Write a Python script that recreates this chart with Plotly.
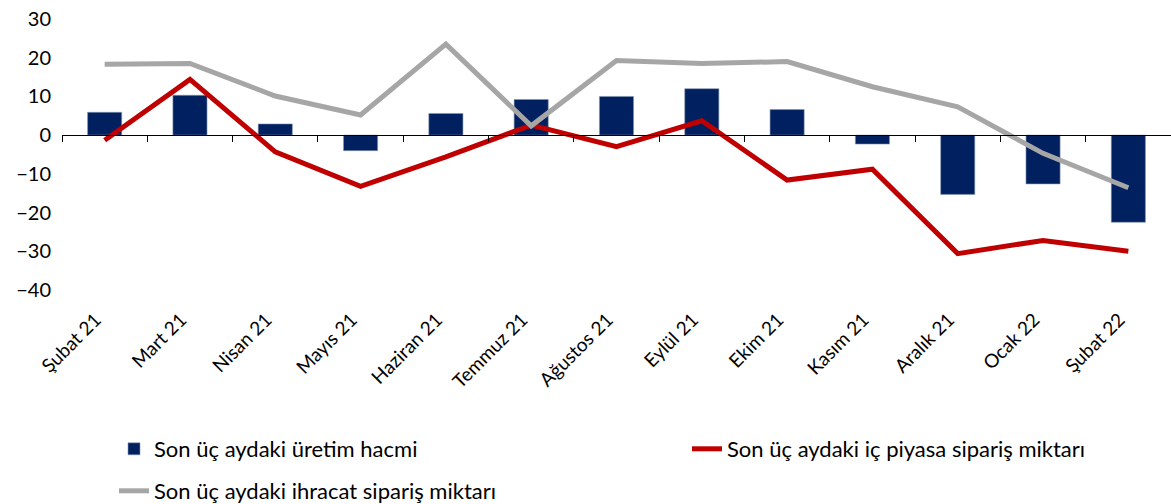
import plotly.graph_objects as go

categories = ["Şubat 21", "Mart 21", "Nisan 21", "Mayıs 21", "Haziran 21", "Temmuz 21",
              "Ağustos 21", "Eylül 21", "Ekim 21", "Kasım 21", "Aralık 21", "Ocak 22", "Şubat 22"]
uretim = [5.9, 10.3, 2.9, -4.0, 5.6, 9.2, 10.0, 12.0, 6.6, -2.3, -15.3, -12.6, -22.5]
ic_piyasa = [-1.3, 14.4, -4.3, -13.2, -5.6, 2.6, -3.0, 3.7, -11.6, -8.8, -30.6, -27.2, -30.0]
ihracat = [18.3, 18.5, 10.1, 5.2, 23.5, 2.4, 19.3, 18.5, 19.0, 12.5, 7.3, -4.7, -13.6]
y_ticks = [-40, -30, -20, -10, 0, 10, 20, 30]

FONT = "Lato"

fig = go.Figure()
fig.add_trace(go.Bar(x=categories, y=uretim, name="Son üç aydaki üretim hacmi",
                     marker=dict(color="#002060", line=dict(color="#8497B0", width=0.6)),
                     width=0.4, legend="legend"))
fig.add_trace(go.Scatter(x=categories, y=ic_piyasa, name="Son üç aydaki iç piyasa sipariş miktarı",
                         mode="lines", line=dict(color="#C00000", width=5), legend="legend2"))
fig.add_trace(go.Scatter(x=categories, y=ihracat, name="Son üç aydaki ihracat sipariş miktarı",
                         mode="lines", line=dict(color="#A6A6A6", width=5), legend="legend3"))
# helper trace for the zero-line category axis
fig.add_trace(go.Scatter(x=categories, y=[None] * len(categories), xaxis="x2",
                         showlegend=False, hoverinfo="skip", mode="lines"))

xr = [-0.5, len(categories) - 0.5]
leg_common = dict(orientation="h", xref="container", yref="container",
                  xanchor="left", yanchor="middle", font=dict(size=22),
                  bgcolor="rgba(0,0,0,0)")
fig.update_layout(
    width=1171, height=504,
    margin=dict(l=62, r=0, t=19, b=214, autoexpand=False),
    plot_bgcolor="white", paper_bgcolor="white",
    font=dict(family=FONT, size=20, color="black"),
    xaxis=dict(type="category", categoryorder="array", categoryarray=categories, range=xr,
               showline=False, showgrid=False, zeroline=False, ticks="",
               tickangle=-45, ticklabelstandoff=14, ticklabelshift=-9,
               tickfont=dict(size=19)),
    xaxis2=dict(type="category", categoryorder="array", categoryarray=categories, range=xr,
                overlaying="x", anchor="free", position=4 / 7,
                showline=True, linecolor="black", linewidth=1,
                ticks="outside", tickson="boundaries", ticklen=6, tickcolor="black",
                showticklabels=False, showgrid=False, zeroline=False),
    yaxis=dict(range=[-40, 30], tickvals=y_ticks, showgrid=False, zeroline=False,
               showline=False, ticks="", ticklabelstandoff=10, tickfont=dict(size=20)),
    bargap=0.6,
    legend=dict(leg_common, x=114 / 1171, y=1 - 449 / 504),
    legend2=dict(leg_common, x=687 / 1171, y=1 - 449 / 504),
    legend3=dict(leg_common, x=114 / 1171, y=1 - 491 / 504),
    showlegend=True,
)

fig.write_html("out.html", config={"displayModeBar": False},
               post_script="document.body.style.margin='0';")
